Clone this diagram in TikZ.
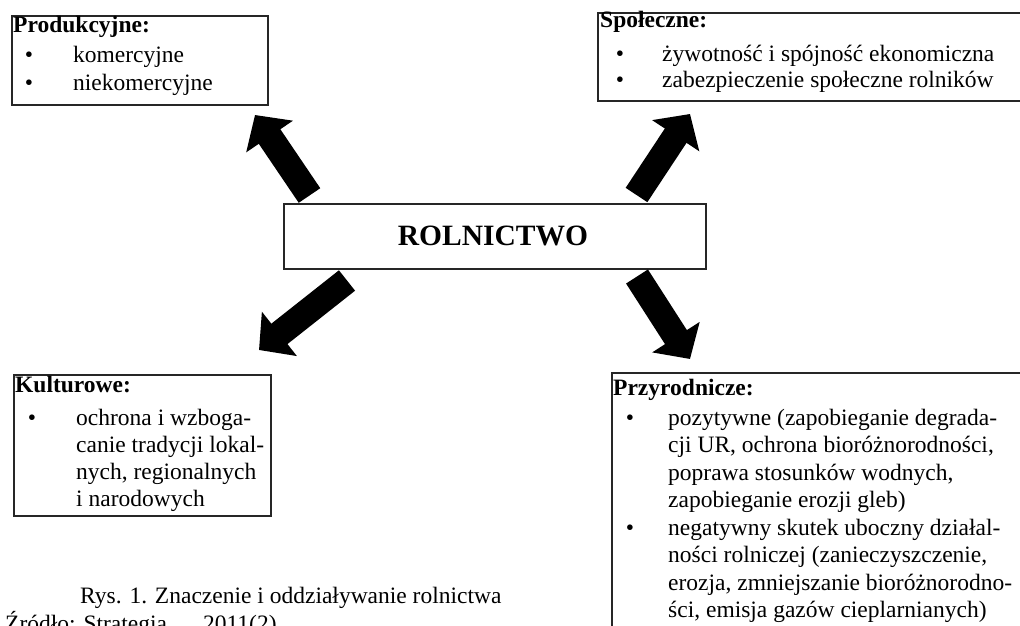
\documentclass[tikz,border=0pt]{standalone}
\usepackage{fontspec}
\setmainfont{Liberation Serif}
\usetikzlibrary{arrows.meta}
\begin{document}
\begin{tikzpicture}[x=1pt,y=-1pt,
  box/.style={draw=black!85, line width=1.6pt, anchor=north west, inner sep=0pt, fill=none},
  txt/.style={anchor=base west, inner sep=0pt, font=\fontsize{23.5}{28}\selectfont},
  ttl/.style={txt, font=\fontsize{23.5}{28}\selectfont\bfseries},
  bul/.style={anchor=base, inner sep=0pt, font=\fontsize{23.5}{28}\selectfont},
  bigarrow/.style={line width=26pt, -{Triangle[width=55pt,length=26pt]}, black}]
\useasboundingbox (0,0) rectangle (1020,626);
\clip (0,0) rectangle (1020,626);
% boxes
\node[box, minimum width=256pt, minimum height=89pt] (prod) at (11,15) {};
\node[box, minimum width=450pt, minimum height=88pt] (spol) at (597,12) {};
\node[box, minimum width=422pt, minimum height=65pt] (roln) at (283,203) {};
\node[box, minimum width=257pt, minimum height=141pt] (kult) at (13,374) {};
\node[box, minimum width=450pt, minimum height=300pt] (przy) at (611,372) {};
% center
\node[anchor=base, inner sep=0pt, font=\fontsize{29.5}{32}\selectfont\bfseries] (rtxt) at (493,245) {ROLNICTWO};
% Produkcyjne
\node[ttl] (p0) at (13,33) {Produkcyjne:};
\node[bul] (pb1) at (29,63) {•};
\node[txt] (p1) at (73,63) {komercyjne};
\node[bul] (pb2) at (29,91) {•};
\node[txt] (p2) at (73,91) {niekomercyjne};
% Spoleczne
\node[ttl] (s0) at (600,28) {Społeczne:};
\node[bul] (sb1) at (620,62) {•};
\node[txt] (s1) at (662,62) {żywotność i spójność ekonomiczna};
\node[bul] (sb2) at (620,88) {•};
\node[txt] (s2) at (662,88) {zabezpieczenie społeczne rolników};
% Kulturowe
\node[ttl] (k0) at (15,392) {Kulturowe:};
\node[bul] (kb1) at (32,425) {•};
\node[txt] (k1) at (76,425) {ochrona i wzboga-};
\node[txt] (k2) at (76,452) {canie tradycji lokal-};
\node[txt] (k3) at (76,479) {nych, regionalnych};
\node[txt] (k4) at (76,506) {i narodowych};
% Przyrodnicze
\node[ttl] (r0) at (613,395) {Przyrodnicze:};
\node[bul] (rb1) at (630,425) {•};
\node[txt] (r1) at (668,425) {pozytywne (zapobieganie degrada-};
\node[txt] (r2) at (668,452) {cji UR, ochrona bioróżnorodności,};
\node[txt] (r3) at (668,480) {poprawa stosunków wodnych,};
\node[txt] (r4) at (668,507) {zapobieganie erozji gleb)};
\node[bul] (rb2) at (630,535) {•};
\node[txt] (r5) at (668,535) {negatywny skutek uboczny działal-};
\node[txt] (r6) at (668,562) {ności rolniczej (zanieczyszczenie,};
\node[txt] (r7) at (668,590) {erozja, zmniejszanie bioróżnorodno-};
\node[txt] (r8) at (668,617) {ści, emisja gazów cieplarnianych)};
% caption
\node[txt] (cap1) at (80,603) {Rys. 1. Znaczenie i oddziaływanie rolnictwa};
\node[txt] (cap2) at (5,631) {Źródło: Strategia\hspace{36pt}2011(2)};
% arrows
\coordinate (tlb) at (309.5,195.5);
\coordinate (tlt) at (255,115);
\coordinate (trb) at (636.5,195);
\coordinate (trt) at (690,114);
\coordinate (blb) at (347,280.5);
\coordinate (blt) at (259,350);
\coordinate (brb) at (637,276.5);
\coordinate (brt) at (690,359);
\draw[bigarrow] (tlb) -- (tlt);
\draw[bigarrow] (trb) -- (trt);
\draw[bigarrow] (blb) -- (blt);
\draw[bigarrow] (brb) -- (brt);
\end{tikzpicture}
\end{document}
